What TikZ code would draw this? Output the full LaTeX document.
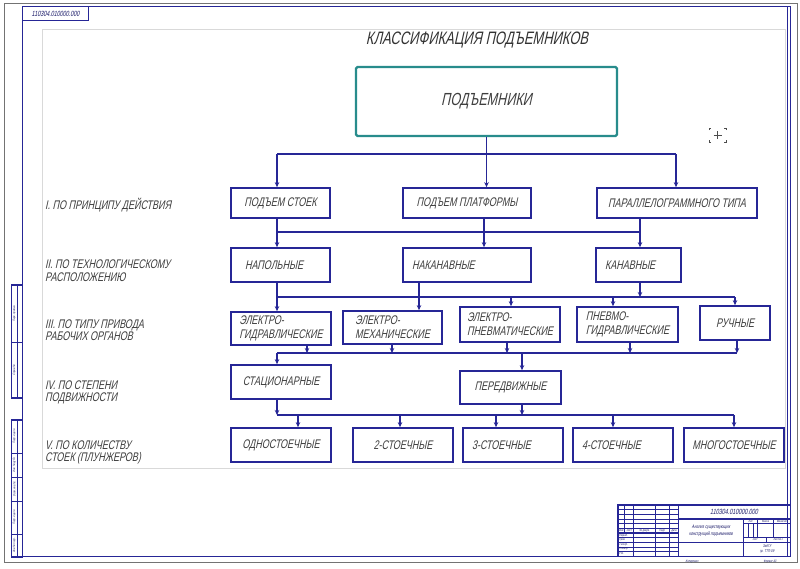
\documentclass[tikz,border=0pt]{standalone}
\usepackage{fontspec}
\newfontfamily\gost[FakeStretch=0.72,FakeSlant=0.22]{Liberation Sans}
\usetikzlibrary{arrows.meta}
\definecolor{navy}{RGB}{38,38,150}
\definecolor{tealb}{RGB}{40,140,140}
\definecolor{txt}{RGB}{62,62,62}
\newcommand{\gf}[2]{\gost\fontsize{#1}{#2}\selectfont}
\begin{document}
\begin{tikzpicture}[x=1pt,y=-1pt,
  box/.style={draw=navy,line width=1.7pt,inner xsep=2pt,inner ysep=0pt,font=\gf{12.5}{14},text=txt,align=left},
  lab/.style={anchor=west,inner sep=0pt,font=\gf{12.5}{12.5},text=txt,align=left},
  conn/.style={draw=navy,line width=1.6pt},
  arr/.style={conn,-{Stealth[length=5pt,width=4.5pt]}},
  thinf/.style={draw=navy,line width=0.7pt},
  boldf/.style={draw=navy,line width=1.3pt},
  tiny/.style={inner sep=0pt,font=\gf{3.2}{3.6},text=navy!70!black}
]
\useasboundingbox (0,0) rectangle (800,568);
\fill[white] (0,0) rectangle (800,568);
% sheet frames
\draw[black!55,line width=0.6pt] (4,3) rectangle (797,562);
\draw[navy,line width=1.3pt] (22.7,6.7) rectangle (790.5,556.5);
\draw[navy,line width=1.1pt] (787.3,6.7) -- (787.3,556.5);
\draw[black!15,line width=0.8pt] (42,29) rectangle (785,468);
% top-left designation box
\draw[navy,line width=1.2pt] (22.7,6.7) rectangle (88.3,20.5);
\node[inner sep=0pt,font=\gf{7.5}{8},text=navy!70!black] (dsg) at (55.5,13.8) {110304.010000.000};
% left strip
\draw[boldf] (11.7,285) rectangle (22.7,398);
\draw[thinf] (17,285) -- (17,398) (11.7,342) -- (22.7,342);
\draw[boldf] (11.7,420) rectangle (22.7,557);
\draw[thinf] (17,420) -- (17,557);
\foreach \yy in {453,477,501,534} \draw[thinf] (11.7,\yy) -- (22.7,\yy);
\node[tiny,rotate=90] (st1) at (14.3,313.5) {Перв. примен.};
\node[tiny,rotate=90] (st2) at (14.3,370) {Справ. №};
\node[tiny,rotate=90] (st3) at (14.3,436.5) {Подп. и дата};
\node[tiny,rotate=90] (st4) at (14.3,465) {Инв. № дубл.};
\node[tiny,rotate=90] (st5) at (14.3,489) {Взам. инв. №};
\node[tiny,rotate=90] (st6) at (14.3,517.5) {Подп. и дата};
\node[tiny,rotate=90] (st7) at (14.3,545.5) {Инв. № подл.};
% title block
\foreach \yy in {509.65,514.3,518.95,523.6,537.55,542.2,546.85,551.5} \draw[thinf] (618,\yy) -- (678.5,\yy);
\draw[boldf] (618,528.25) -- (678.5,528.25) (618,532.9) -- (678.5,532.9);
\draw[boldf] (624.5,505) -- (624.5,532.9);
\foreach \xx in {633.8,655.2,669.2} \draw[boldf] (\xx,505) -- (\xx,556);
\draw[boldf] (678.5,505) -- (678.5,556);
\draw[boldf] (678.5,518.95) -- (790,518.95);
\draw[boldf] (743.6,518.95) -- (743.6,556);
\draw[boldf] (678.5,542.2) -- (790,542.2);
\draw[thinf] (743.6,523.6) -- (790,523.6) (743.6,537.55) -- (790,537.55);
\draw[thinf] (748.25,523.6) -- (748.25,537.55) (752.9,523.6) -- (752.9,537.55);
\draw[boldf] (757.6,518.95) -- (757.6,537.55) (773.4,518.95) -- (773.4,537.55);
\draw[thinf] (766.8,537.55) -- (766.8,542.2);
\draw[navy,line width=1.5pt] (618,505) rectangle (790.5,556.5);
\node[inner sep=0pt,font=\gf{7.5}{8},text=navy!70!black] (tbd) at (734,512) {110304.010000.000};
\node[inner sep=0pt,font=\gf{5}{6.5},text=navy!70!black,align=center] (tbn) at (711,531) {Анализ существующих\\конструкций подъемников};
\node[tiny] (h1) at (621.25,530.6) {Изм.};
\node[tiny] (h2) at (629.15,530.6) {Лист};
\node[tiny] (h3) at (644.5,530.6) {№ докум.};
\node[tiny] (h4) at (662.2,530.6) {Подп.};
\node[tiny] (h5) at (673.85,530.6) {Дата};
\node[tiny,anchor=west] (r1) at (619,535.2) {Разраб.};
\node[tiny,anchor=west] (r2) at (619,539.9) {Пров.};
\node[tiny,anchor=west] (r3) at (619,544.5) {Т.контр.};
\node[tiny,anchor=west] (r4) at (619,549.2) {Н.контр.};
\node[tiny,anchor=west] (r5) at (619,553.8) {Утв.};
\node[tiny] (l1) at (750.6,521.3) {Лит.};
\node[tiny] (l2) at (765.5,521.3) {Масса};
\node[tiny] (l3) at (781.7,521.3) {Масштаб};
\node[tiny] (l4) at (755,539.9) {Лист};
\node[tiny] (l5) at (778,539.9) {Листов 1};
\node[tiny,font=\gf{4}{4.6},align=center] (org) at (767,549) {ЗабГУ\\гр. ТТП-09};
\node[tiny,font=\gf{3.5}{4}] (kop) at (692,561.5) {Копировал};
\node[tiny,font=\gf{3.5}{4}] (fmt) at (770,561.5) {Формат A3};
% crosshair
\draw[black!70,line width=0.5pt] (713.5,135) -- (721.5,135) (717.5,131) -- (717.5,139);
\draw[black!70,line width=0.5pt] (709,130) -- (709,128) -- (711,128) (726,130) -- (726,128) -- (724,128)
  (709,140) -- (709,142) -- (711,142) (726,140) -- (726,142) -- (724,142);
% title
\node[inner sep=0pt,font=\gf{18}{20},text=black!80] (title) at (477,40) {КЛАССИФИКАЦИЯ ПОДЪЕМНИКОВ};
% top box
\node[draw=tealb,line width=2.4pt,rounded corners=1.5pt,minimum width=261pt,minimum height=69pt,inner sep=0pt,font=\gf{17.5}{20},text=txt] (top) at (486.5,101.5) {ПОДЪЕМНИКИ};
% row labels
\node[lab] (L1) at (45,205) {I. ПО ПРИНЦИПУ ДЕЙСТВИЯ};
\node[lab] (L2) at (45,270.5) {II. ПО ТЕХНОЛОГИЧЕСКОМУ\\РАСПОЛОЖЕНИЮ};
\node[lab] (L3) at (45,330) {III. ПО ТИПУ ПРИВОДА\\РАБОЧИХ ОРГАНОВ};
\node[lab] (L4) at (45,392.5) {IV. ПО СТЕПЕНИ\\ПОДВИЖНОСТИ};
\node[lab] (L5) at (45,452.5) {V. ПО КОЛИЧЕСТВУ\\СТОЕК (ПЛУНЖЕРОВ)};
% row 1
\node[box,minimum width=99pt,minimum height=30pt] (s1) at (280.5,203) {ПОДЪЕМ СТОЕК};
\node[box,minimum width=128pt,minimum height=30pt] (s2) at (467,203) {ПОДЪЕМ ПЛАТФОРМЫ};
\node[box,minimum width=160pt,minimum height=30pt] (s3) at (677,203) {ПАРАЛЛЕЛОГРАММНОГО ТИПА};
% row 2
\node[box,inner xsep=14pt,text width=71pt,minimum height=34pt] (n1) at (280.5,265) {НАПОЛЬНЫЕ};
\node[box,inner xsep=9pt,text width=110pt,minimum height=34pt] (n2) at (467,265) {НАКАНАВНЫЕ};
\node[box,inner xsep=9pt,text width=67pt,minimum height=34pt] (n3) at (638.5,265) {КАНАВНЫЕ};
% row 3
\node[box,minimum width=100pt,minimum height=33pt] (e1) at (281,328.5) {ЭЛЕКТРО-\\ГИДРАВЛИЧЕСКИЕ};
\node[box,minimum width=99pt,minimum height=33pt] (e2) at (392.5,327.5) {ЭЛЕКТРО-\\МЕХАНИЧЕСКИЕ};
\node[box,minimum width=100pt,minimum height=35pt] (e3) at (510,324.5) {ЭЛЕКТРО-\\ПНЕВМАТИЧЕСКИЕ};
\node[box,minimum width=101pt,minimum height=35pt] (e4) at (627.5,324.5) {ПНЕВМО-\\ГИДРАВЛИЧЕСКИЕ};
\node[box,minimum width=70pt,minimum height=34pt] (e5) at (735,323) {РУЧНЫЕ};
% row 4
\node[box,minimum width=100pt,minimum height=34pt] (t1) at (281,382) {СТАЦИОНАРНЫЕ};
\node[box,minimum width=101pt,minimum height=33pt] (t2) at (510.5,387.5) {ПЕРЕДВИЖНЫЕ};
% row 5
\node[box,minimum width=100pt,minimum height=34pt] (c1) at (281,445) {ОДНОСТОЕЧНЫЕ};
\node[box,minimum width=100pt,minimum height=34pt] (c2) at (403,445) {2-СТОЕЧНЫЕ};
\node[box,inner xsep=9pt,text width=82pt,minimum height=34pt] (c3) at (513,445) {3-СТОЕЧНЫЕ};
\node[box,inner xsep=9pt,text width=82pt,minimum height=34pt] (c4) at (623,445) {4-СТОЕЧНЫЕ};
\node[box,minimum width=100pt,minimum height=34pt] (c5) at (734,445) {МНОГОСТОЕЧНЫЕ};
% connectors: top -> row 1
\coordinate (b0L) at (277,154);
\coordinate (b0R) at (676,154);
\draw[conn] (top.south) -- (top.south |- b0L);
\draw[conn] (b0L) -- (b0R);
\draw[arr] (b0L) -- (s1.north -| b0L);
\draw[arr] (top.south |- b0L) -- (s2.north -| top.south);
\draw[arr] (b0R) -- (s3.north -| b0R);
% row 1 -> row 2
\coordinate (b1L) at (277,232);
\coordinate (b1R) at (640,232);
\draw[conn] (b1L) -- (b1R);
\draw[arr] (s1.south -| b1L) -- (n1.north -| b1L);
\draw[arr] (s2.south -| 484,0) -- (n2.north -| 484,0);
\draw[arr] (s3.south -| b1R) -- (n3.north -| b1R);
% row 2 -> row 3
\coordinate (b2L) at (277,297);
\coordinate (b2R) at (735,297);
\draw[conn] (b2L) -- (b2R);
\draw[arr] (n1.south -| b2L) -- (e1.north -| b2L);
\draw[arr] (n2.south -| 419,0) -- (e2.north -| 419,0);
\draw[arr] (n3.south -| 640,0) -- (640,297);
\draw[arr] (511,297) -- (e3.north -| 511,0);
\draw[arr] (613,297) -- (e4.north -| 613,0);
\draw[arr] (b2R) -- (e5.north -| b2R);
% row 3 -> row 4
\coordinate (b3L) at (277,353);
\coordinate (b3R) at (737,353);
\draw[conn] (b3L) -- (b3R);
\draw[arr] (e1.south -| 307,0) -- (307,353);
\draw[arr] (e2.south -| 392,0) -- (392,353);
\draw[arr] (e3.south -| 507,0) -- (507,353);
\draw[arr] (e4.south -| 630,0) -- (630,353);
\draw[arr] (e5.south -| b3R) -- (b3R);
\draw[arr] (b3L) -- (t1.north -| b3L);
\draw[arr] (522,353) -- (t2.north -| 522,0);
% row 4 -> row 5
\coordinate (b4L) at (277,415);
\coordinate (b4R) at (734,415);
\draw[conn] (b4L) -- (b4R);
\draw[arr] (t1.south -| b4L) -- (b4L);
\draw[arr] (t2.south -| 522,0) -- (522,415);
\draw[arr] (298,415) -- (c1.north -| 298,0);
\draw[arr] (400,415) -- (c2.north -| 400,0);
\draw[arr] (496,415) -- (c3.north -| 496,0);
\draw[arr] (613,415) -- (c4.north -| 613,0);
\draw[arr] (b4R) -- (c5.north -| b4R);
\end{tikzpicture}
\end{document}
